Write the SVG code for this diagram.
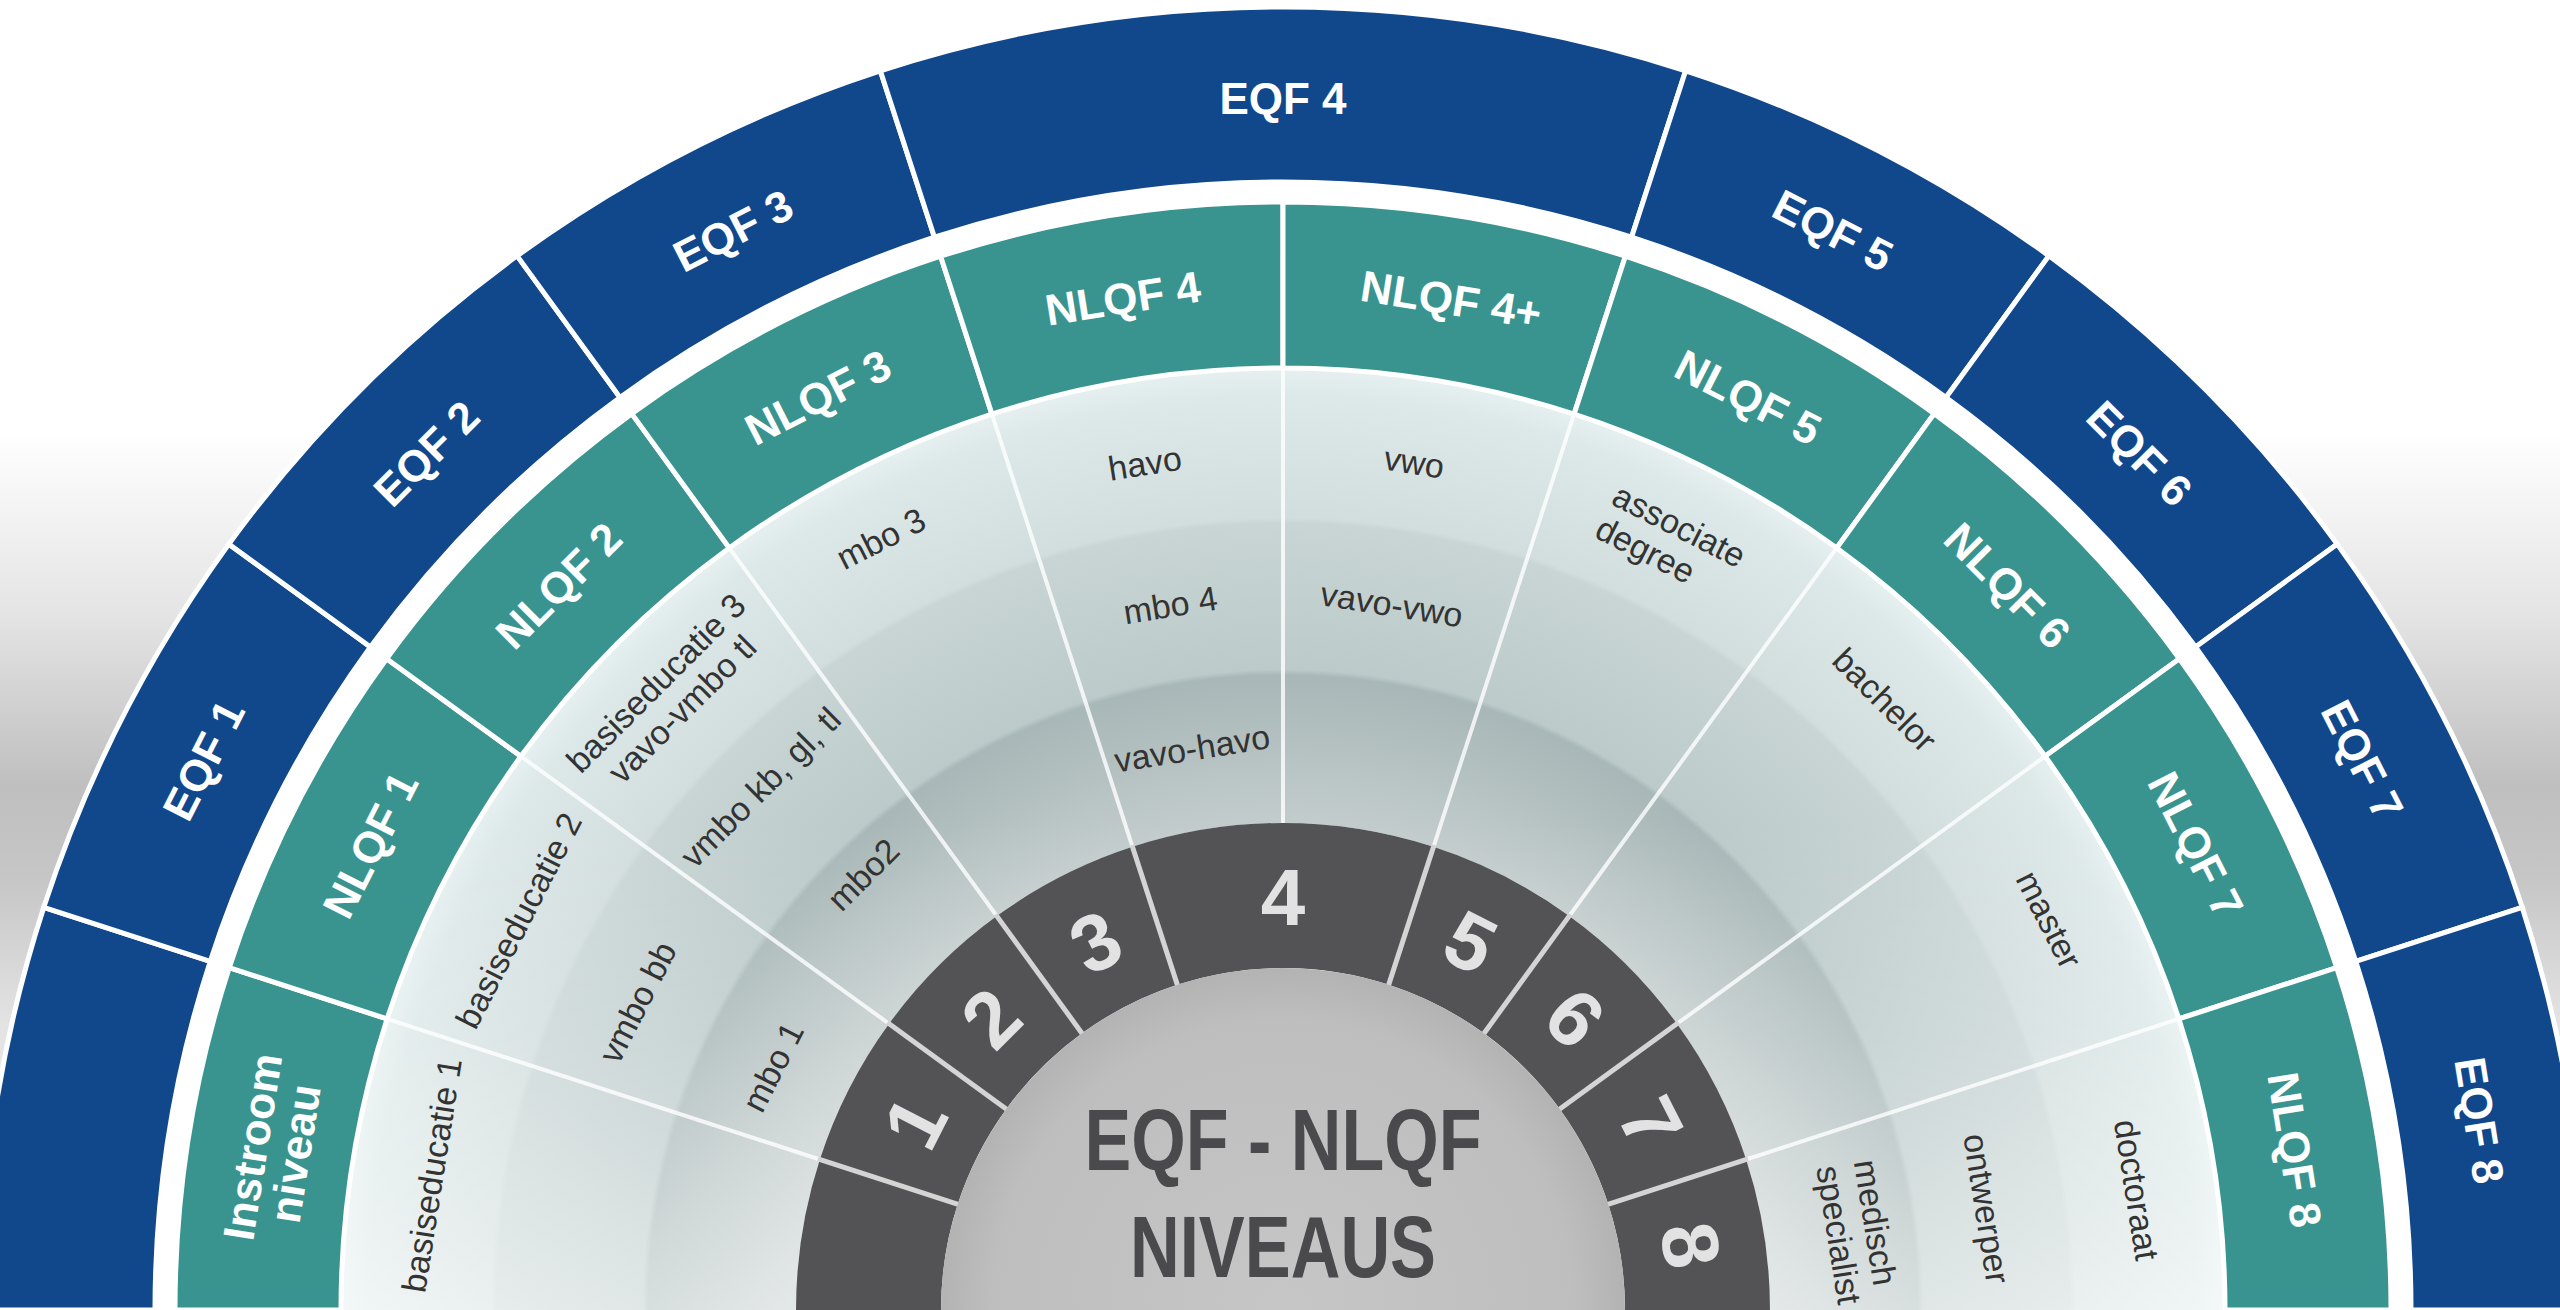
<svg xmlns="http://www.w3.org/2000/svg" width="2560" height="1310" viewBox="0 0 2560 1310">
<defs>
  <style>
    .eqf { fill:#11488c; stroke:#ffffff; stroke-width:5; }
    .teal { fill:#39948f; stroke:#ffffff; stroke-width:5; }
    .dark { fill:#535356; }
    .lbl { font-family:"Liberation Sans", Arial, sans-serif; font-weight:bold; font-size:44px; fill:#ffffff; text-anchor:middle; }
    .num { font-family:"Liberation Sans", Arial, sans-serif; font-weight:bold; font-size:80px; fill:#e2e2e2; text-anchor:middle; }
    .txt { font-family:"Liberation Sans", Arial, sans-serif; font-size:34px; fill:#333333; text-anchor:middle; }
    .txts { font-family:"Liberation Sans", Arial, sans-serif; font-size:34px; fill:#333333; text-anchor:start; }
    .title { font-family:"Liberation Sans", Arial, sans-serif; font-weight:bold; font-size:88px; fill:#4a4a4c; text-anchor:middle; }
    .div-light { stroke:#ffffff; stroke-opacity:0.8; stroke-width:4; }
    .div-dark { stroke:#d4d4d4; stroke-width:5; }
  </style>
  <linearGradient id="bg" gradientUnits="userSpaceOnUse" x1="0" y1="0" x2="0" y2="1310">
    <stop offset="0" stop-color="#ffffff"/>
    <stop offset="0.33" stop-color="#ffffff"/>
    <stop offset="0.47" stop-color="#e4e4e4"/>
    <stop offset="0.6" stop-color="#bfbfbf"/>
    <stop offset="0.67" stop-color="#c6c6c6"/>
    <stop offset="0.78" stop-color="#e3e3e3"/>
    <stop offset="1" stop-color="#f2f2f2"/>
  </linearGradient>
  <radialGradient id="bands" gradientUnits="userSpaceOnUse" cx="1283" cy="1310" r="942">
    <stop offset="0.517" stop-color="#c3cccc"/>
    <stop offset="0.674" stop-color="#a8b7b7"/>
    <stop offset="0.680" stop-color="#bccaca"/>
    <stop offset="0.835" stop-color="#c9d5d5"/>
    <stop offset="0.841" stop-color="#d2dddd"/>
    <stop offset="0.97" stop-color="#dde8e8"/>
    <stop offset="1" stop-color="#e6f0f0"/>
  </radialGradient>
  <linearGradient id="shine" gradientUnits="userSpaceOnUse" x1="0" y1="820" x2="0" y2="1310">
    <stop offset="0" stop-color="#ffffff" stop-opacity="0"/>
    <stop offset="0.45" stop-color="#ffffff" stop-opacity="0.2"/>
    <stop offset="1" stop-color="#ffffff" stop-opacity="0.55"/>
  </linearGradient>
  <radialGradient id="core" gradientUnits="userSpaceOnUse" cx="1283" cy="1310" r="342">
    <stop offset="0" stop-color="#c6c6c6"/>
    <stop offset="0.85" stop-color="#bebebe"/>
    <stop offset="1" stop-color="#b3b3b3"/>
  </radialGradient>
  <path id="s-eqf" d="M -203.83 -1286.96 A 1303 1303 0 0 1 203.83 -1286.96 L 176.46 -1114.11 A 1128 1128 0 0 0 -176.46 -1114.11 Z"/>
  <path id="s-eqf36" d="M -402.65 -1239.23 A 1303 1303 0 0 1 402.65 -1239.23 L 348.57 -1072.79 A 1128 1128 0 0 0 -348.57 -1072.79 Z"/>
  <path id="s-teal" d="M -173.33 -1094.36 A 1108 1108 0 0 1 173.33 -1094.36 L 147.36 -930.40 A 942 942 0 0 0 -147.36 -930.40 Z"/>
  <path id="s-dark" d="M -76.18 -481.00 A 487 487 0 0 1 76.18 -481.00 L 53.50 -337.79 A 342 342 0 0 0 -53.50 -337.79 Z"/>
  <path id="s-dark36" d="M -150.49 -463.17 A 487 487 0 0 1 150.49 -463.17 L 105.68 -325.26 A 342 342 0 0 0 -105.68 -325.26 Z"/>
</defs>

<rect id="background" x="0" y="0" width="2560" height="1310" fill="url(#bg)"/>

<g id="eqf-ring">
  <g id="eqf-0" transform="translate(1283 1310) rotate(-81)"><use href="#s-eqf" class="eqf"/></g>
  <g id="eqf-1" transform="translate(1283 1310) rotate(-63)"><use href="#s-eqf" class="eqf"/><text class="lbl" x="0" y="-1196">EQF 1</text></g>
  <g id="eqf-2" transform="translate(1283 1310) rotate(-45)"><use href="#s-eqf" class="eqf"/><text class="lbl" x="0" y="-1196">EQF 2</text></g>
  <g id="eqf-3" transform="translate(1283 1310) rotate(-27)"><use href="#s-eqf" class="eqf"/><text class="lbl" x="0" y="-1196">EQF 3</text></g>
  <g id="eqf-4" transform="translate(1283 1310) rotate(0)"><use href="#s-eqf36" class="eqf"/><text class="lbl" x="0" y="-1196">EQF 4</text></g>
  <g id="eqf-5" transform="translate(1283 1310) rotate(27)"><use href="#s-eqf" class="eqf"/><text class="lbl" x="0" y="-1196">EQF 5</text></g>
  <g id="eqf-6" transform="translate(1283 1310) rotate(45)"><use href="#s-eqf" class="eqf"/><text class="lbl" x="0" y="-1196">EQF 6</text></g>
  <g id="eqf-7" transform="translate(1283 1310) rotate(63)"><use href="#s-eqf" class="eqf"/><text class="lbl" x="0" y="-1196">EQF 7</text></g>
  <g id="eqf-8" transform="translate(1283 1310) rotate(81)"><use href="#s-eqf" class="eqf"/><text class="lbl" x="0" y="-1196">EQF 8</text></g>
</g>

<circle id="gap" cx="1283" cy="1310" r="1129" fill="#ffffff"/>

<g id="content-bands">
  <path d="M 341 1310 A 942 942 0 0 1 2225 1310 L 1770 1310 A 487 487 0 0 0 796 1310 Z" fill="url(#bands)"/>
  <path d="M 341 1310 A 942 942 0 0 1 2225 1310 L 1770 1310 A 487 487 0 0 0 796 1310 Z" fill="url(#shine)"/>
</g>

<g id="connectors">
  <g transform="translate(1283 1310)">
    <line class="div-light" x1="0" y1="-487" x2="0" y2="-942" transform="rotate(-72)"/>
    <line class="div-light" x1="0" y1="-487" x2="0" y2="-942" transform="rotate(-54)"/>
    <line class="div-light" x1="0" y1="-487" x2="0" y2="-942" transform="rotate(-36)"/>
    <line class="div-light" x1="0" y1="-487" x2="0" y2="-942" transform="rotate(-18)"/>
    <line class="div-light" x1="0" y1="-487" x2="0" y2="-942" transform="rotate(0)"/>
    <line class="div-light" x1="0" y1="-487" x2="0" y2="-942" transform="rotate(18)"/>
    <line class="div-light" x1="0" y1="-487" x2="0" y2="-942" transform="rotate(36)"/>
    <line class="div-light" x1="0" y1="-487" x2="0" y2="-942" transform="rotate(54)"/>
    <line class="div-light" x1="0" y1="-487" x2="0" y2="-942" transform="rotate(72)"/>
  </g>
</g>

<g id="nlqf-columns">
  <g id="instroom" transform="translate(1283 1310) rotate(-81)">
    <use href="#s-teal" class="teal"/>
    <text class="lbl" x="0" y="-1028">Instroom</text>
    <text class="lbl" x="0" y="-985">niveau</text>
    <text class="txt" x="0" y="-850">basiseducatie 1</text>
  </g>
  <g id="nlqf-1" transform="translate(1283 1310) rotate(-63)">
    <use href="#s-teal" class="teal"/>
    <text class="lbl" x="0" y="-1009">NLQF 1</text>
    <text class="txt" x="0" y="-846">basiseducatie 2</text>
    <text class="txt" x="-19" y="-703">vmbo bb</text>
    <text class="txt" x="-15" y="-553">mbo 1</text>
  </g>
  <g id="nlqf-2" transform="translate(1283 1310) rotate(-45)">
    <use href="#s-teal" class="teal"/>
    <text class="lbl" x="0" y="-1009">NLQF 2</text>
    <text class="txt" x="0" y="-875">basiseducatie 3</text>
    <text class="txt" x="0" y="-838">vavo-vmbo tl</text>
    <text class="txt" x="0" y="-727">vmbo kb, gl, tl</text>
    <text class="txt" x="11" y="-593">mbo2</text>
  </g>
  <g id="nlqf-3" transform="translate(1283 1310) rotate(-27)">
    <use href="#s-teal" class="teal"/>
    <text class="lbl" x="0" y="-1009">NLQF 3</text>
    <text class="txt" x="-8" y="-858">mbo 3</text>
  </g>
  <g id="nlqf-4" transform="translate(1283 1310) rotate(-9)">
    <use href="#s-teal" class="teal"/>
    <text class="lbl" x="0" y="-1009">NLQF 4</text>
    <text class="txt" x="-4" y="-846">havo</text>
    <text class="txt" x="-1" y="-702">mbo 4</text>
    <text class="txt" x="-2" y="-557">vavo-havo</text>
  </g>
  <g id="nlqf-4plus" transform="translate(1283 1310) rotate(9)">
    <use href="#s-teal" class="teal"/>
    <text class="lbl" x="8" y="-1009">NLQF 4+</text>
    <text class="txt" x="-3" y="-846">vwo</text>
    <text class="txt" x="-3" y="-702">vavo-vwo</text>
  </g>
  <g id="nlqf-5" transform="translate(1283 1310) rotate(27)">
    <use href="#s-teal" class="teal"/>
    <text class="lbl" x="0" y="-1009">NLQF 5</text>
    <text class="txts" x="-75" y="-867">associate</text>
    <text class="txts" x="-75" y="-830">degree</text>
  </g>
  <g id="nlqf-6" transform="translate(1283 1310) rotate(45)">
    <use href="#s-teal" class="teal"/>
    <text class="lbl" x="0" y="-1009">NLQF 6</text>
    <text class="txt" x="-6" y="-845">bachelor</text>
  </g>
  <g id="nlqf-7" transform="translate(1283 1310) rotate(63)">
    <use href="#s-teal" class="teal"/>
    <text class="lbl" x="0" y="-1009">NLQF 7</text>
    <text class="txt" x="0" y="-848">master</text>
  </g>
  <g id="nlqf-8" transform="translate(1283 1310) rotate(81)">
    <use href="#s-teal" class="teal"/>
    <text class="lbl" x="0" y="-1009">NLQF 8</text>
    <text class="txt" x="15" y="-850">doctoraat</text>
    <text class="txt" x="10" y="-699">ontwerper</text>
    <text class="txts" x="-57" y="-587">medisch</text>
    <text class="txts" x="-57" y="-549">specialist</text>
  </g>
</g>

<g id="level-ring">
  <g id="level-0" transform="translate(1283 1310) rotate(-81)"><use href="#s-dark" class="dark"/></g>
  <g id="level-1" transform="translate(1283 1310) rotate(-63)"><use href="#s-dark" class="dark"/><text class="num" x="0" y="-385">1</text></g>
  <g id="level-2" transform="translate(1283 1310) rotate(-45)"><use href="#s-dark" class="dark"/><text class="num" x="0" y="-385">2</text></g>
  <g id="level-3" transform="translate(1283 1310) rotate(-27)"><use href="#s-dark" class="dark"/><text class="num" x="0" y="-385">3</text></g>
  <g id="level-4" transform="translate(1283 1310) rotate(0)"><use href="#s-dark36" class="dark"/><text class="num" x="0" y="-385">4</text></g>
  <g id="level-5" transform="translate(1283 1310) rotate(27)"><use href="#s-dark" class="dark"/><text class="num" x="0" y="-385">5</text></g>
  <g id="level-6" transform="translate(1283 1310) rotate(45)"><use href="#s-dark" class="dark"/><text class="num" x="0" y="-385">6</text></g>
  <g id="level-7" transform="translate(1283 1310) rotate(63)"><use href="#s-dark" class="dark"/><text class="num" x="0" y="-385">7</text></g>
  <g id="level-8" transform="translate(1283 1310) rotate(81)"><use href="#s-dark" class="dark"/><text class="num" x="0" y="-385">8</text></g>
  <g transform="translate(1283 1310)">
    <line class="div-dark" x1="0" y1="-340" x2="0" y2="-489" transform="rotate(-72)"/>
    <line class="div-dark" x1="0" y1="-340" x2="0" y2="-489" transform="rotate(-54)"/>
    <line class="div-dark" x1="0" y1="-340" x2="0" y2="-489" transform="rotate(-36)"/>
    <line class="div-dark" x1="0" y1="-340" x2="0" y2="-489" transform="rotate(-18)"/>
    <line class="div-dark" x1="0" y1="-340" x2="0" y2="-489" transform="rotate(18)"/>
    <line class="div-dark" x1="0" y1="-340" x2="0" y2="-489" transform="rotate(36)"/>
    <line class="div-dark" x1="0" y1="-340" x2="0" y2="-489" transform="rotate(54)"/>
    <line class="div-dark" x1="0" y1="-340" x2="0" y2="-489" transform="rotate(72)"/>
  </g>
</g>

<g id="title">
  <circle cx="1283" cy="1310" r="342" fill="url(#core)"/>
  <text class="title" x="1283" y="1170" textLength="397" lengthAdjust="spacingAndGlyphs">EQF - NLQF</text>
  <text class="title" x="1283" y="1277" textLength="306" lengthAdjust="spacingAndGlyphs">NIVEAUS</text>
</g>
</svg>
